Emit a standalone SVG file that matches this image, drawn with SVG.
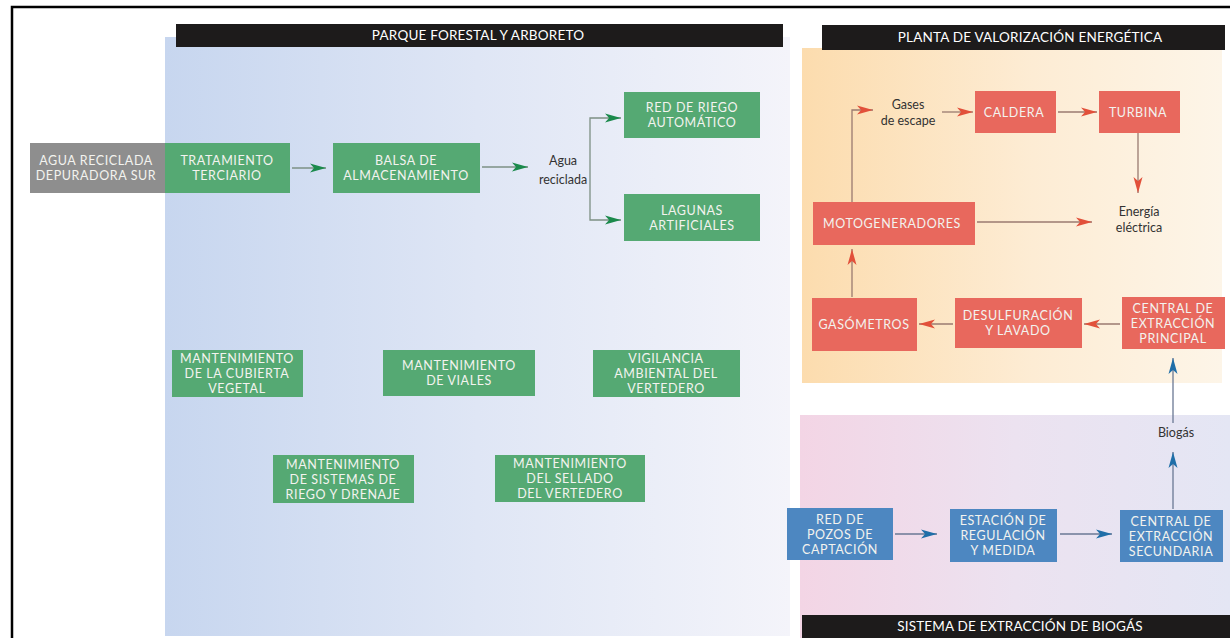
<svg xmlns="http://www.w3.org/2000/svg" width="1230" height="638" viewBox="0 0 1230 638">
<defs>
<style>
.bt{font-family:Lato,"Liberation Sans",sans-serif;font-size:12.5px;letter-spacing:0.6px;fill:#f3f3ef;text-anchor:middle}
.lb{font-family:Lato,"Liberation Sans",sans-serif;font-size:12.5px;fill:#333;text-anchor:middle}
.hd{font-family:Lato,"Liberation Sans",sans-serif;font-size:13.5px;letter-spacing:0.2px;fill:#fff;text-anchor:middle}
.g{fill:#55a973}
.r{fill:#e8685d}
.b{fill:#4d87c1}
.hb{fill:#1d1b1b}
.cg{stroke:#7d9084;stroke-width:1.3;fill:none;marker-end:url(#ag)}
.cr{stroke:#9a7a70;stroke-width:1.3;fill:none;marker-end:url(#ar)}
.cb{stroke:#6a7894;stroke-width:1.3;fill:none;marker-end:url(#ab)}
</style>
<linearGradient id="gBlue" x1="0" y1="0" x2="1" y2="0">
<stop offset="0" stop-color="#c7d6ef"/><stop offset="0.5" stop-color="#dfe6f5"/><stop offset="1" stop-color="#f4f4fa"/>
</linearGradient>
<linearGradient id="gOr" x1="0" y1="0" x2="1" y2="0">
<stop offset="0" stop-color="#fcdcae"/><stop offset="0.55" stop-color="#fdecd4"/><stop offset="1" stop-color="#fdf5e8"/>
</linearGradient>
<linearGradient id="gPk" x1="0" y1="0" x2="1" y2="0">
<stop offset="0" stop-color="#f3d5e5"/><stop offset="0.5" stop-color="#ece2f0"/><stop offset="1" stop-color="#e4e6f4"/>
</linearGradient>
<marker id="ag" viewBox="0 0 16 10" refX="16" refY="5" markerWidth="16" markerHeight="10" markerUnits="userSpaceOnUse" orient="auto"><path d="M0,0.5 L16,5 L0,9.5 L4,5 Z" fill="#1b8a4c"/></marker>
<marker id="ar" viewBox="0 0 16 10" refX="16" refY="5" markerWidth="16" markerHeight="10" markerUnits="userSpaceOnUse" orient="auto"><path d="M0,0.5 L16,5 L0,9.5 L4,5 Z" fill="#e2503a"/></marker>
<marker id="ab" viewBox="0 0 16 10" refX="16" refY="5" markerWidth="16" markerHeight="10" markerUnits="userSpaceOnUse" orient="auto"><path d="M0,0.5 L16,5 L0,9.5 L4,5 Z" fill="#1f6ea8"/></marker>
</defs>
<rect width="1230" height="638" fill="#fff"/>
<path d="M12,638 V7 H1230" stroke="#000" stroke-width="2.5" fill="none"/>

<g id="panels">
<rect x="165" y="37" width="625" height="599" fill="url(#gBlue)"/>
<rect x="802" y="48" width="420" height="335" fill="url(#gOr)"/>
<rect x="800" y="415" width="430" height="223" fill="url(#gPk)"/>
</g>

<g id="header-parque"><rect class="hb" x="176" y="24" width="607" height="23"/><text class="hd" x="478" y="40">PARQUE FORESTAL Y ARBORETO</text></g>
<g id="header-planta"><rect class="hb" x="822" y="25" width="403" height="25"/><text class="hd" x="1030" y="42">PLANTA DE VALORIZACIÓN ENERGÉTICA</text></g>
<g id="header-biogas"><rect class="hb" x="802" y="615" width="428" height="23"/><text class="hd" x="1020" y="631">SISTEMA DE EXTRACCIÓN DE BIOGÁS</text></g>

<g id="connectors">
<path class="cg" d="M292,168 H326"/>
<path class="cg" d="M482,167 H528"/>
<path class="cg" d="M590,167 V118 H621"/>
<path class="cg" d="M590,167 V220 H621"/>
<path class="cr" d="M852,202 V110 H873"/>
<path class="cr" d="M942,112 H973"/>
<path class="cr" d="M1058,112 H1097"/>
<path class="cr" d="M1138,133 V193"/>
<path class="cr" d="M977,222 H1092"/>
<path class="cr" d="M852,297 V249"/>
<path class="cr" d="M953,324 H919"/>
<path class="cr" d="M1120,324 H1084"/>
<path class="cb" d="M1173,423 V358"/>
<path class="cb" d="M1173,509 V452"/>
<path class="cb" d="M895,534 H937"/>
<path class="cb" d="M1060,534 H1112"/>
</g>

<g id="agua-reciclada-sur"><rect x="30" y="143" width="135" height="50" fill="#8e8e8e"/><text class="bt" x="96" y="165">AGUA RECICLADA</text><text class="bt" x="96" y="180">DEPURADORA SUR</text></g>
<g id="tratamiento"><rect class="g" x="165" y="143" width="125" height="50"/><text class="bt" x="227" y="165">TRATAMIENTO</text><text class="bt" x="227" y="180">TERCIARIO</text></g>
<g id="balsa"><rect class="g" x="333" y="143" width="147" height="50"/><text class="bt" x="406" y="165">BALSA DE</text><text class="bt" x="406" y="180">ALMACENAMIENTO</text></g>
<g id="agua-label"><text class="lb" x="563" y="165">Agua</text><text class="lb" x="563" y="184">reciclada</text></g>
<g id="red-riego"><rect class="g" x="624" y="92" width="136" height="46"/><text class="bt" x="692" y="112">RED DE RIEGO</text><text class="bt" x="692" y="127">AUTOMÁTICO</text></g>
<g id="lagunas"><rect class="g" x="624" y="194" width="136" height="47"/><text class="bt" x="692" y="214.5">LAGUNAS</text><text class="bt" x="692" y="229.5">ARTIFICIALES</text></g>

<g id="mant-cubierta"><rect class="g" x="172" y="350" width="131" height="47"/><text class="bt" x="237" y="363">MANTENIMIENTO</text><text class="bt" x="237" y="378">DE LA CUBIERTA</text><text class="bt" x="237" y="393">VEGETAL</text></g>
<g id="mant-viales"><rect class="g" x="383" y="350" width="152" height="46"/><text class="bt" x="459" y="370">MANTENIMIENTO</text><text class="bt" x="459" y="385">DE VIALES</text></g>
<g id="vigilancia"><rect class="g" x="593" y="350" width="147" height="47"/><text class="bt" x="666" y="363">VIGILANCIA</text><text class="bt" x="666" y="378">AMBIENTAL DEL</text><text class="bt" x="666" y="393">VERTEDERO</text></g>
<g id="mant-riego"><rect class="g" x="273" y="455" width="141" height="48"/><text class="bt" x="343" y="468.5">MANTENIMIENTO</text><text class="bt" x="343" y="483.5">DE SISTEMAS DE</text><text class="bt" x="343" y="498.5">RIEGO Y DRENAJE</text></g>
<g id="mant-sellado"><rect class="g" x="495" y="455" width="150" height="47"/><text class="bt" x="570" y="468">MANTENIMIENTO</text><text class="bt" x="570" y="483">DEL SELLADO</text><text class="bt" x="570" y="498">DEL VERTEDERO</text></g>

<g id="gases-label"><text class="lb" x="908" y="109">Gases</text><text class="lb" x="908" y="125">de escape</text></g>
<g id="caldera"><rect class="r" x="975" y="91" width="81" height="42"/><text class="bt" x="1014" y="116.5">CALDERA</text></g>
<g id="turbina"><rect class="r" x="1099" y="91" width="81" height="42"/><text class="bt" x="1138" y="116.5">TURBINA</text></g>
<g id="energia-label"><text class="lb" x="1139" y="216">Energía</text><text class="lb" x="1139" y="232">eléctrica</text></g>
<g id="motogeneradores"><rect class="r" x="813" y="202" width="162" height="43"/><text class="bt" x="892" y="228">MOTOGENERADORES</text></g>
<g id="gasometros"><rect class="r" x="812" y="298" width="105" height="53"/><text class="bt" x="864" y="329">GASÓMETROS</text></g>
<g id="desulfuracion"><rect class="r" x="955" y="298" width="127" height="50"/><text class="bt" x="1018" y="320">DESULFURACIÓN</text><text class="bt" x="1018" y="335">Y LAVADO</text></g>
<g id="central-principal"><rect class="r" x="1122" y="297" width="103" height="52"/><text class="bt" x="1173" y="312.5">CENTRAL DE</text><text class="bt" x="1173" y="327.5">EXTRACCIÓN</text><text class="bt" x="1173" y="342.5">PRINCIPAL</text></g>

<g id="biogas-label"><text class="lb" x="1176" y="437">Biogás</text></g>
<g id="red-pozos"><rect class="b" x="787" y="508" width="106" height="52"/><text class="bt" x="840" y="523.5">RED DE</text><text class="bt" x="840" y="538.5">POZOS DE</text><text class="bt" x="840" y="553.5">CAPTACIÓN</text></g>
<g id="estacion"><rect class="b" x="950" y="509" width="107" height="53"/><text class="bt" x="1003" y="525">ESTACIÓN DE</text><text class="bt" x="1003" y="540">REGULACIÓN</text><text class="bt" x="1003" y="555">Y MEDIDA</text></g>
<g id="central-secundaria"><rect class="b" x="1120" y="510" width="103" height="52"/><text class="bt" x="1171" y="525.5">CENTRAL DE</text><text class="bt" x="1171" y="540.5">EXTRACCIÓN</text><text class="bt" x="1171" y="555.5">SECUNDARIA</text></g>
</svg>
